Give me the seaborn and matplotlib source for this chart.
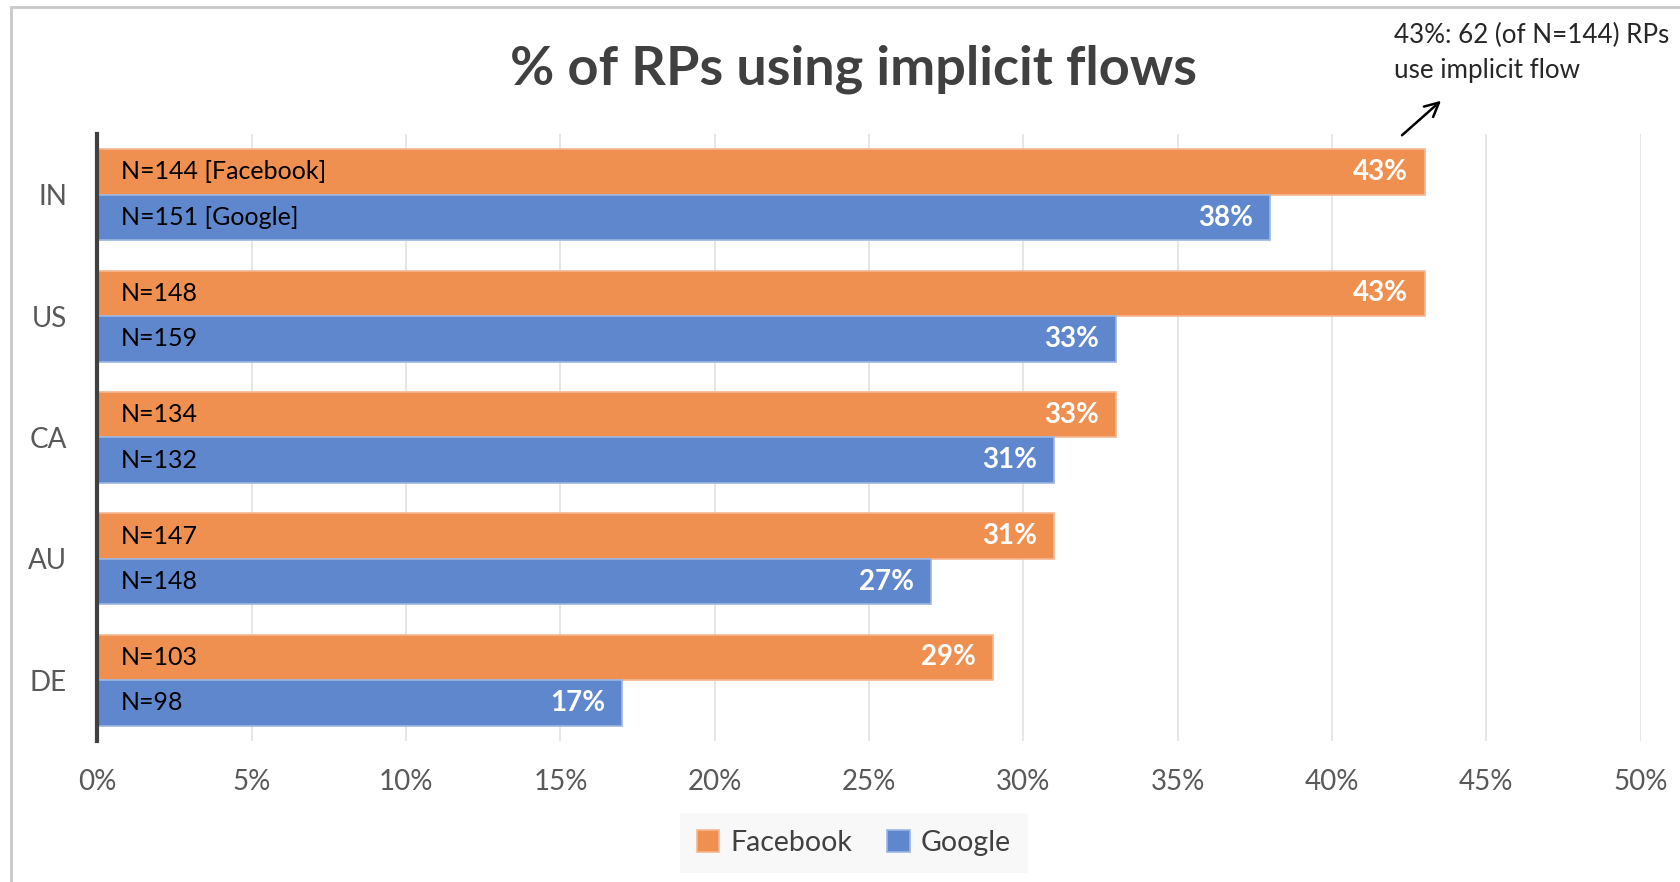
import matplotlib
matplotlib.use("Agg")
import matplotlib.pyplot as plt
import seaborn as sns
import pandas as pd
from matplotlib.patches import Rectangle, Patch

countries = ["IN", "US", "CA", "AU", "DE"]
providers = ["Facebook", "Google"]
facebook_pct = [43, 43, 33, 31, 29]
google_pct = [38, 33, 31, 27, 17]
facebook_n = ["N=144 [Facebook]", "N=148", "N=134", "N=147", "N=103"]
google_n = ["N=151 [Google]", "N=159", "N=132", "N=148", "N=98"]
x_ticks = [0, 5, 10, 15, 20, 25, 30, 35, 40, 45, 50]
title = "% of RPs using implicit flows"
note_lines = ["43%: 62 (of N=144) RPs", "use implicit flow"]

colors = {"Facebook": "#EF9050", "Google": "#5F87CE"}
edges = {"Facebook": "#F6B690", "Google": "#9BB5E2"}

df = pd.DataFrame({
    "country": countries * 2,
    "provider": ["Facebook"] * len(countries) + ["Google"] * len(countries),
    "pct": facebook_pct + google_pct,
    "nlabel": facebook_n + google_n,
})

sns.set_theme(style="white")
plt.rcParams["font.family"] = ["Lato", "DejaVu Sans"]

fig = plt.figure(figsize=(16.81, 8.82), dpi=100)
ax = fig.add_axes([0.058, 0.160, 0.918, 0.688])

sns.barplot(data=df, y="country", x="pct", hue="provider", order=countries,
            hue_order=providers, palette=colors, orient="h", width=0.75,
            gap=0, saturation=1, legend=False, ax=ax, errorbar=None)

# bar edges & labels
for cont, prov in zip(ax.containers, providers):
    sub = df[df["provider"] == prov].set_index("country").loc[countries]
    for bar, nl, v in zip(cont.patches, sub["nlabel"], sub["pct"]):
        bar.set_edgecolor(edges[prov])
        bar.set_linewidth(1.2)
        yc = bar.get_y() + bar.get_height() / 2
        ax.text(0.75, yc, nl, ha="left", va="center", fontsize=18, color="black")
        ax.annotate(f"{v}%", xy=(bar.get_width(), yc), xytext=(-12, 0),
                    textcoords="offset points", ha="right", va="center",
                    fontsize=20, fontweight="bold", color="white")

ax.set_xlim(0, 50)
ax.set_ylim(4.5, -0.5)
ax.set_xticks(x_ticks)
ax.set_xticklabels([f"{t}%" for t in x_ticks])
ax.set_xlabel("")
ax.set_ylabel("")
ax.tick_params(axis="x", labelsize=20, colors="#595959", length=0, pad=20)
ax.tick_params(axis="y", labelsize=20, colors="#595959", length=0, pad=22)
ax.xaxis.grid(True, color="#E4E4E4", linewidth=1.3)
ax.set_axisbelow(True)
for s in ["top", "right", "bottom"]:
    ax.spines[s].set_visible(False)
ax.spines["left"].set_color("#404040")
ax.spines["left"].set_linewidth(3)
ax.spines["left"].set_zorder(5)

# title
fig.text(0.508, 0.922, title, ha="center", va="center", fontsize=39,
         fontweight="bold", color="#404040")

# annotation
ax.annotate("", xy=(43.6, 1.058), xytext=(42.2, 0.995),
            xycoords=("data", "axes fraction"), textcoords=("data", "axes fraction"),
            arrowprops=dict(arrowstyle="->", color="black", lw=1.8, mutation_scale=25),
            annotation_clip=False)
for line, yf in zip(note_lines, [1.163, 1.104]):
    ax.text(42.0, yf, line, transform=ax.get_xaxis_transform(), ha="left",
            va="center", fontsize=18.7, color="#262626", clip_on=False)

# legend
handles = [Patch(facecolor=colors[p], edgecolor=edges[p], linewidth=1.2) for p in providers]
leg = fig.legend(handles, providers, loc="center", bbox_to_anchor=(0.508, 0.044),
                 ncol=2, frameon=True, fancybox=False, facecolor="#F7F7F7",
                 edgecolor="none", fontsize=20.5, handlelength=0.8, handleheight=0.8,
                 handletextpad=0.4, columnspacing=1.2, borderpad=0.6)
for t in leg.get_texts():
    t.set_color("#404040")

# outer chart frame
fig.patches.append(Rectangle((11 / 1681, -0.05), 1.2, 1 - 7 / 882 + 0.05,
                             transform=fig.transFigure, fill=False,
                             edgecolor="#C8C8C8", linewidth=2))

fig.savefig("out.png", dpi=100)
